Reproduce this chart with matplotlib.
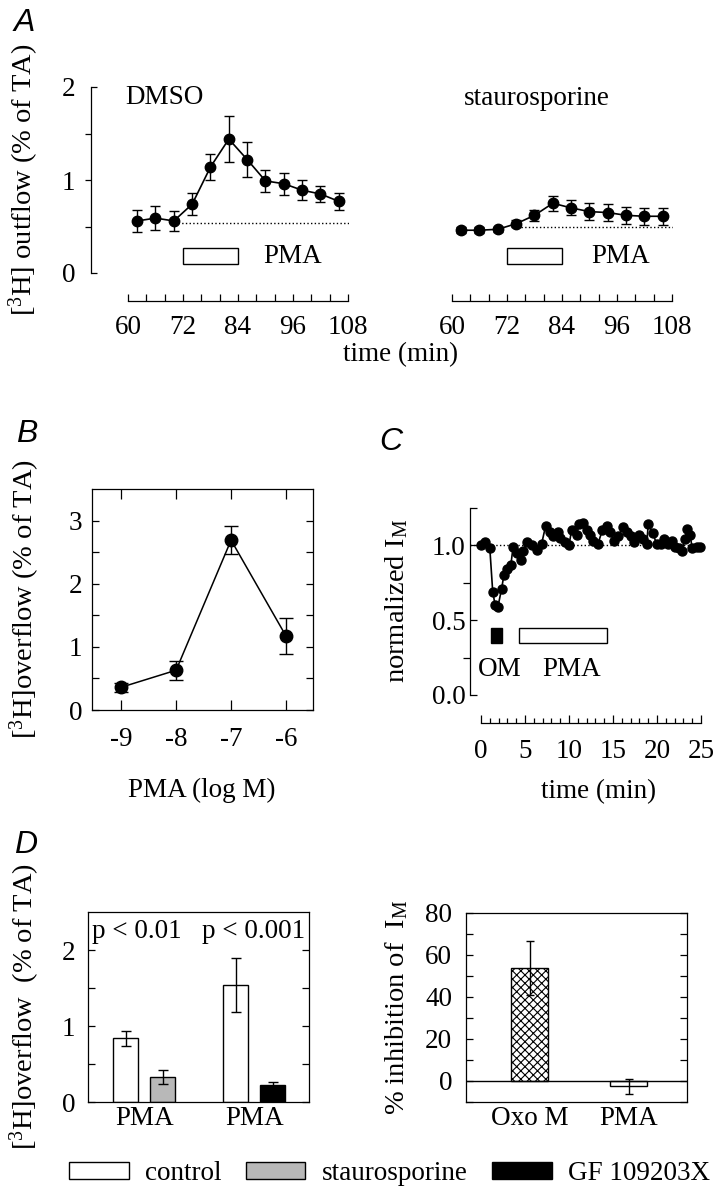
import numpy as np
import matplotlib
matplotlib.use('Agg')
import matplotlib.pyplot as plt
import matplotlib.lines as mlines
from matplotlib.patches import Rectangle, Patch
from matplotlib.ticker import NullFormatter

plt.rcParams['font.family'] = ['Liberation Serif', 'DejaVu Serif']
plt.rcParams['mathtext.fontset'] = 'custom'
plt.rcParams['mathtext.rm'] = 'Liberation Serif'
plt.rcParams['mathtext.it'] = 'Liberation Serif:italic'
plt.rcParams['font.size'] = 19.5
plt.rcParams['axes.labelsize'] = 20.5
plt.rcParams['axes.linewidth'] = 0.9
plt.rcParams['hatch.linewidth'] = 0.8

# ---- A: [3H] outflow time course ----
time_a = [62, 66, 70, 74, 78, 82, 86, 90, 94, 98, 102, 106]
dmso_mean = [0.56, 0.59, 0.56, 0.74, 1.14, 1.44, 1.22, 0.99, 0.96, 0.89, 0.85, 0.77]
dmso_err = [0.12, 0.13, 0.11, 0.12, 0.14, 0.25, 0.19, 0.12, 0.12, 0.11, 0.09, 0.09]
dmso_basal = 0.54
stauro_mean = [0.46, 0.46, 0.47, 0.53, 0.62, 0.75, 0.70, 0.66, 0.65, 0.62, 0.61, 0.61]
stauro_err = [0.03, 0.03, 0.03, 0.04, 0.06, 0.08, 0.08, 0.09, 0.09, 0.09, 0.09, 0.09]
stauro_basal = 0.49
basal_from = [71, 75]
pma_a = [72, 84]

# ---- B: concentration response ----
pma_log = [-9, -8, -7, -6]
overflow_b = [0.36, 0.63, 2.69, 1.17]
overflow_b_err = [0.07, 0.15, 0.22, 0.29]

# ---- C: normalized I_M ----
time_c = [0.0, 0.45, 1.0, 1.33, 1.6, 1.93, 2.35, 2.6, 3.0, 3.4, 3.65, 4.05, 4.6, 4.8,
          5.2, 5.75, 6.35, 6.9, 7.35, 7.85, 8.2, 8.7, 9.0, 9.55, 10.0, 10.3, 10.9,
          11.15, 11.55, 12.0, 12.4, 12.75, 13.3, 13.8, 14.3, 14.65, 15.1, 15.6,
          16.15, 16.55, 17.0, 17.4, 17.9, 18.4, 18.85, 19.0, 19.5, 19.95, 20.4,
          20.8, 21.3, 21.65, 22.05, 22.55, 22.8, 23.2, 23.4, 23.75, 24.0, 24.5, 24.9]
im_c = [1.00, 1.02, 0.98, 0.69, 0.60, 0.59, 0.71, 0.80, 0.84, 0.87, 0.99, 0.95, 0.90,
        0.96, 1.02, 1.00, 0.97, 1.01, 1.13, 1.09, 1.06, 1.09, 1.05, 1.02, 1.00, 1.10,
        1.07, 1.14, 1.15, 1.10, 1.07, 1.03, 1.01, 1.10, 1.13, 1.09, 1.03, 1.06, 1.12,
        1.09, 1.06, 1.02, 1.07, 1.04, 1.01, 1.14, 1.08, 1.01, 1.01, 1.04, 1.01, 1.03,
        0.99, 0.98, 0.96, 1.04, 1.11, 1.07, 0.98, 0.99, 0.99]
om_c = [1.1, 2.4]
pma_c = [4.3, 14.3]

# ---- D: overflow bars and I_M inhibition ----
d_groups = ['PMA', 'PMA']
d_control = [0.84, 1.54]
d_control_err = [0.10, 0.36]
d_blocker = [0.33, 0.22]
d_blocker_err = [0.09, 0.045]
d_blocker_colors = ['#b8b8b8', 'black']
d_pvals = ['p < 0.01', 'p < 0.001']

im_labels = ['Oxo M', 'PMA']
im_inhib = [53.7, -2.5]
im_inhib_err = [12.7, 3.5]

legend_labels = ['control', 'staurosporine', 'GF 109203X']

W, H = 721, 1199
fig = plt.figure(figsize=(W / 100, H / 100), dpi=100)


def box(l, t, r, b):
    return [l / W, 1 - b / H, (r - l) / W, (b - t) / H]


def letter(x, y, s):
    fig.text(x / W, 1 - y / H, s, family=['Liberation Sans', 'DejaVu Sans'],
             style='italic', fontsize=23, ha='left', va='baseline')


# ================= A =================
axA1 = fig.add_axes(box(91, 87, 349, 273))
axA2 = fig.add_axes(box(415, 87, 673, 273))
panels_a = [(axA1, dmso_mean, dmso_err, dmso_basal, basal_from[0], 'DMSO', 59.4, 89.5),
            (axA2, stauro_mean, stauro_err, stauro_basal, basal_from[1], 'staurosporine', 78.6, 90.3)]
for ax, m, e, basal, b0, title, tx, px in panels_a:
    ax.errorbar(time_a, m, yerr=e, fmt='-o', color='k', ms=7.5, lw=1.2,
                capsize=3.6, elinewidth=1, capthick=1)
    ax.plot([b0, 108.2], [basal, basal], ls=':', color='k', lw=1)
    ax.add_patch(Rectangle((pma_a[0], 0.10), pma_a[1] - pma_a[0], 0.17,
                           fill=False, ec='k', lw=1))
    ax.text(px, 0.18, 'PMA', ha='left', va='center')
    if title == 'DMSO':
        ax.text(tx, 1.89, title, ha='left', va='center')
    else:
        ax.text(tx, 1.88, title, ha='center', va='center')
    ax.set_xlim(51.93, 108.22)
    ax.set_ylim(0, 2)
    ax.spines['top'].set_visible(False)
    ax.spines['right'].set_visible(False)
    ax.spines['bottom'].set_position(('outward', 20))
    ax.spines['bottom'].set_bounds(60, 108)
    ax.set_xticks([60, 72, 84, 96, 108])
    ax.set_xticks([64, 68, 76, 80, 88, 92, 100, 104], minor=True)
    ax.tick_params(axis='x', which='both', direction='in', length=5, width=0.9, pad=10)
    ax.patch.set_visible(False)

axA1.spines['left'].set_bounds(0, 2)
axA1.set_yticks([0, 1, 2])
axA1.set_yticks([0.5, 1.5], minor=True)
axA1.tick_params(axis='y', which='both', direction='out', length=4.5, width=0.9, pad=7)
for tk, v in zip(axA1.yaxis.get_major_ticks(), [0, 1, 2]):
    if v != 1:
        tk.tick1line.set_marker(mlines.TICKRIGHT)
axA1.set_ylabel('[$^{3}$H] outflow (% of TA)')
axA1.yaxis.set_label_coords(-50 / 258, 0.5)
axA2.spines['left'].set_visible(False)
axA2.set_yticks([])
fig.text(401 / W, 1 - 355 / H, 'time (min)', ha='center', va='center')
letter(14, 31, 'A')

# ================= B =================
axB = fig.add_axes(box(92, 489, 313, 710))
conc = 10.0 ** np.array(pma_log)
axB.errorbar(conc, overflow_b, yerr=overflow_b_err, fmt='-o', color='k', ms=9,
             lw=1.1, capsize=5, elinewidth=1, capthick=1)
axB.set_xscale('log')
axB.set_xlim(10 ** -9.53, 10 ** -5.51)
axB.set_ylim(0, 3.5)
axB.set_xticks(conc, labels=[str(v) for v in pma_log])
axB.xaxis.set_minor_formatter(NullFormatter())
axB.set_yticks([0, 1, 2, 3])
axB.set_yticks([0.5, 1.5, 2.5], minor=True)
axB.tick_params(which='both', direction='in', top=True, right=True, width=0.9)
axB.tick_params(axis='x', which='major', length=7, pad=12)
axB.tick_params(axis='x', which='minor', length=3.5)
axB.tick_params(axis='y', which='both', length=5, pad=7)
axB.set_ylabel('[$^{3}$H]overflow (% of TA)')
axB.yaxis.set_label_coords(-50 / 221, 0.5)
fig.text(202 / W, 1 - 790 / H, 'PMA (log M)', ha='center', va='center')
letter(16, 442, 'B')

# ================= C =================
axC = fig.add_axes(box(470, 507.5, 705.4, 695))
axC.plot(time_c, im_c, '-o', color='k', ms=6.5, lw=1.2)
axC.axhline(1.0, xmax=0.985, ls=':', color='k', lw=1)
axC.add_patch(Rectangle((om_c[0], 0.35), om_c[1] - om_c[0], 0.10, fc='k', ec='k', lw=1))
axC.add_patch(Rectangle((pma_c[0], 0.35), pma_c[1] - pma_c[0], 0.10, fill=False, ec='k', lw=1))
axC.text(2.16, 0.17, 'OM', ha='center', va='center')
axC.text(10.3, 0.17, 'PMA', ha='center', va='center')
axC.set_xlim(-1.25, 25.5)
axC.set_ylim(0, 1.25)
axC.spines['top'].set_visible(False)
axC.spines['right'].set_visible(False)
axC.spines['bottom'].set_position(('outward', 20))
axC.spines['bottom'].set_bounds(0, 25)
axC.spines['left'].set_bounds(0, 1.25)
axC.set_xticks([0, 5, 10, 15, 20, 25])
axC.set_xticks([t for t in range(26) if t % 5], minor=True)
axC.tick_params(axis='x', which='major', direction='in', length=6, width=0.9, pad=12)
axC.tick_params(axis='x', which='minor', direction='in', length=3.5, width=0.9)
axC.set_yticks([0, 0.5, 1.0], labels=['0.0', '0.5', '1.0'])
axC.set_yticks([0.25, 0.75, 1.25], minor=True)
axC.tick_params(axis='y', which='major', direction='in', length=5, width=0.9, pad=3)
axC.tick_params(axis='y', which='minor', direction='out', length=5, width=0.9)
axC.yaxis.get_minor_ticks()[2].tick1line.set_marker(mlines.TICKRIGHT)
axC.set_ylabel('normalized I$_{\\rm M}$')
axC.yaxis.set_label_coords(-60 / 235.4, 0.5)
axC.patch.set_visible(False)
fig.text(599 / W, 1 - 792 / H, 'time (min)', ha='center', va='center')
letter(379, 450, 'C')

# ================= D left =================
axD1 = fig.add_axes(box(88, 912, 309, 1102))
group_pos = np.array([2.25, 6.65])
axD1.bar(group_pos - 0.74, d_control, width=1.0, color='white', edgecolor='k', lw=1)
axD1.bar(group_pos + 0.74, d_blocker, width=1.0, color=d_blocker_colors, edgecolor='k', lw=1)
axD1.errorbar(group_pos - 0.74, d_control, yerr=d_control_err, fmt='none', ecolor='k',
              capsize=3.8, elinewidth=1, capthick=1)
axD1.errorbar(group_pos + 0.74, d_blocker, yerr=d_blocker_err, fmt='none', ecolor='k',
              capsize=3.8, elinewidth=1, capthick=1)
for xp, s in zip([1.96, 6.64], d_pvals):
    axD1.text(xp, 2.24, s, ha='center', va='center')
axD1.set_xlim(0, 8.84)
axD1.set_ylim(0, 2.5)
axD1.set_xticks(group_pos, labels=d_groups)
axD1.tick_params(axis='x', length=0, pad=3)
axD1.set_yticks([0, 1, 2])
axD1.set_yticks([0.5, 1.5], minor=True)
axD1.tick_params(axis='y', which='both', direction='in', right=True, length=5, width=0.9, pad=9)
axD1.set_ylabel('[$^{3}$H]overflow  (% of TA)')
axD1.yaxis.set_label_coords(-46 / 221, 0.5)
letter(14, 853, 'D')

# ================= D right =================
axD2 = fig.add_axes(box(466, 912.7, 686.7, 1102))
im_pos = np.array([1.73, 4.4])
axD2.bar(im_pos, im_inhib, width=1.0, color='white', edgecolor='k', lw=1,
         hatch=['xxxx', None])
axD2.errorbar(im_pos, im_inhib, yerr=im_inhib_err, fmt='none', ecolor='k',
              capsize=3, elinewidth=1, capthick=1)
axD2.axhline(0, color='k', lw=1)
axD2.set_xlim(0, 5.97)
axD2.set_ylim(-10, 80)
axD2.set_xticks(im_pos, labels=im_labels)
axD2.tick_params(axis='x', length=0, pad=3)
axD2.set_yticks([0, 20, 40, 60, 80])
axD2.set_yticks([-10, 10, 30, 50, 70], minor=True)
axD2.tick_params(axis='y', which='both', direction='in', right=True, length=5, width=0.9, pad=10)
axD2.set_ylabel('% inhibition of  I$_{\\rm M}$')
axD2.yaxis.set_label_coords(-56 / 221, 0.5)

# ---- legend ----
handles = [Patch(fc='white', ec='k', lw=1), Patch(fc=d_blocker_colors[0], ec='k', lw=1),
           Patch(fc=d_blocker_colors[1], ec='k', lw=1)]
fig.legend(handles, legend_labels, ncol=3, loc='center',
           bbox_to_anchor=(389.5 / W, 1 - 1173.5 / H), frameon=False,
           handlelength=2.2, handleheight=0.55, handletextpad=0.6,
           columnspacing=0.9, borderpad=0, borderaxespad=0, fontsize=19.5)

fig.savefig('out.png', dpi=100)
